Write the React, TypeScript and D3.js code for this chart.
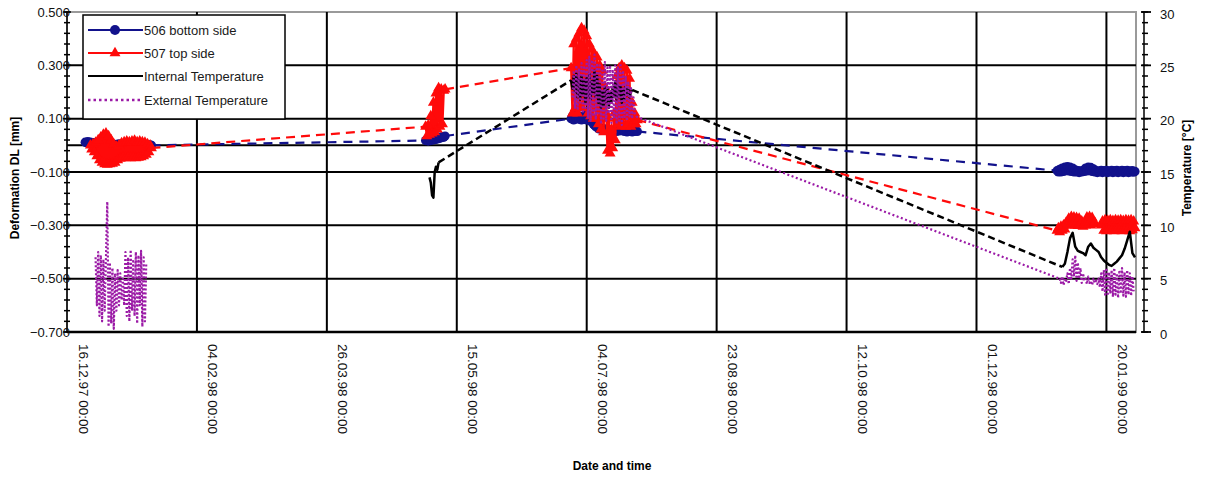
import React, { useEffect, useRef } from "react";
import * as d3 from "d3";

const W = 1205;
const H = 490;
const L = 67;
const R = 1135;
const T = 12;
const B = 332;
const FONT = "'Liberation Sans', Arial, sans-serif";

// axis ticks / labels
const dateLabels = [
  "16.12.97 00:00",
  "04.02.98 00:00",
  "26.03.98 00:00",
  "15.05.98 00:00",
  "04.07.98 00:00",
  "23.08.98 00:00",
  "12.10.98 00:00",
  "01.12.98 00:00",
  "20.01.99 00:00",
];
const deformTicks = [0.5, 0.3, 0.1, -0.1, -0.3, -0.5, -0.7];
const tempTicks = [0, 5, 10, 15, 20, 25, 30];
const legendNames = ["506 bottom side", "507 top side", "Internal Temperature", "External Temperature"];

// 506 bottom side, deformation [mm], readings every 12 h
const bottomA = [
  0.012, 0.01, 0.014, 0.008, 0.012, 0.006, 0.01, 0.004, 0.008, 0.002,
  0.006, 0.0, 0.004, -0.002, 0.006, 0.0, 0.004, -0.002, 0.004, 0.0,
  0.006, -0.002, 0.004, 0.0, 0.004, -0.002, 0.006, 0.0, 0.004, -0.002,
  0.004, 0.0, 0.006, 0.0, 0.004, -0.002, 0.004, 0.0, 0.004, -0.002,
  0.002, 0.0, 0.004, -0.002, 0.002, 0.0, 0.002, -0.002, 0.002, 0.0,
  0.002, 0.0,
];
const bottomB = [0.018, 0.022, 0.016, 0.025, 0.018, 0.028, 0.02, 0.03, 0.022, 0.032, 0.025, 0.03, 0.028, 0.033, 0.03, 0.035];
const bottomC = [
  0.1, 0.11, 0.095, 0.115, 0.1, 0.112, 0.098, 0.11, 0.095, 0.108,
  0.1, 0.112, 0.095, 0.105, 0.092, 0.1, 0.088, 0.08, 0.075, 0.07,
  0.068, 0.062, 0.066, 0.06, 0.064, 0.058, 0.062, 0.056, 0.06, 0.055,
  0.058, 0.052, 0.056, 0.05, 0.055, 0.052, 0.058, 0.054, 0.06, 0.055,
  0.058, 0.052, 0.056, 0.05, 0.054, 0.052, 0.056, 0.05, 0.054, 0.052,
  0.055, 0.052,
];
const bottomD = [
  -0.095, -0.1, -0.09, -0.1, -0.085, -0.098, -0.082, -0.095, -0.08, -0.096,
  -0.082, -0.098, -0.085, -0.1, -0.092, -0.1, -0.095, -0.102, -0.096, -0.1,
  -0.094, -0.098, -0.085, -0.096, -0.082, -0.095, -0.083, -0.098, -0.088, -0.1,
  -0.095, -0.102, -0.096, -0.1, -0.094, -0.102, -0.095, -0.1, -0.094, -0.102,
  -0.096, -0.1, -0.094, -0.102, -0.095, -0.1, -0.094, -0.102, -0.096, -0.1,
  -0.094, -0.102, -0.095, -0.1, -0.094, -0.102, -0.096, -0.1, -0.095, -0.101,
  -0.098,
];

// 507 top side, deformation [mm], readings every 12 h
const topA = [
  0.0, -0.015, 0.005, -0.025, 0.01, -0.04, 0.02, -0.055, 0.03, -0.065,
  0.04, -0.07, 0.045, -0.072, 0.035, -0.07, 0.02, -0.068, 0.005, -0.065,
  -0.005, -0.055, 0.0, -0.05, 0.008, -0.045, 0.012, -0.048, 0.015, -0.045,
  0.012, -0.048, 0.015, -0.045, 0.018, -0.048, 0.012, -0.046, 0.015, -0.044,
  0.012, -0.04, 0.01, -0.035, 0.005, -0.025, 0.0, -0.01,
];
const topB = [0.07, 0.035, 0.075, 0.04, 0.11, 0.045, 0.16, 0.05, 0.195, 0.06, 0.215, 0.07, 0.21, 0.08, 0.205, 0.21];
const topC = [
  0.29, 0.12, 0.38, 0.14, 0.4, 0.12,
  0.42, 0.15, 0.44, 0.14, 0.43, 0.16, 0.41,
  0.12, 0.38, 0.11, 0.36, 0.1, 0.34, 0.1, 0.33,
  0.08, 0.3, 0.06, 0.28, 0.05, 0.22,
  0.12, -0.02, 0.1, -0.03, 0.06, -0.01, 0.12, 0.02,
  0.26, 0.08, 0.29, 0.07, 0.3, 0.08, 0.29, 0.07, 0.28, 0.08, 0.25, 0.07,
  0.16, 0.08, 0.12, 0.08, 0.095,
];
const topD1 = [
  -0.32, -0.31, -0.325, -0.305, -0.32, -0.3, -0.315, -0.29, -0.3, -0.275,
  -0.3, -0.268, -0.298, -0.27, -0.3, -0.272, -0.302, -0.275, -0.3, -0.285,
  -0.305, -0.295, -0.3, -0.27, -0.298, -0.268, -0.3, -0.272, -0.295, -0.29,
];
const topD2 = [
  -0.3, -0.285, -0.32, -0.28, -0.322, -0.282, -0.318, -0.28, -0.32, -0.283,
  -0.322, -0.28, -0.318, -0.282, -0.32, -0.28, -0.322, -0.283, -0.318, -0.28,
  -0.32, -0.282, -0.322, -0.28, -0.318, -0.285, -0.31,
];

// internal temperature [°C]
const internalB = [14.5, 14.0, 12.8, 12.6, 15.0, 15.5, 15.2, 15.9];
const internalC = [
  23.6, 22.8, 24.0, 22.5, 24.2, 22.0, 23.8, 21.8, 24.0, 22.2,
  23.5, 21.5, 23.8, 22.0, 24.2, 21.8, 23.5, 22.5, 24.5, 22.0,
  24.0, 21.5, 23.2, 21.0, 22.5, 21.2, 23.0, 21.5, 22.8, 21.0,
  22.5, 21.5, 23.0, 22.0, 23.5, 21.8, 23.2, 22.0, 23.0, 21.5,
  22.8, 21.8, 23.0, 22.2, 22.8, 22.0, 22.5, 22.7,
];
const internalD = [
  6.1, 6.4, 7.5, 8.8, 9.3, 8.0, 7.6, 7.5, 7.4, 7.2,
  8.0, 8.3, 7.9, 7.7, 7.5, 7.0, 6.7, 6.5, 6.3, 6.2,
  6.4, 6.6, 6.9, 7.2, 7.8, 8.6, 9.4, 7.4, 7.0,
];

// external temperature [°C]
const externalA = [
  7.0, 2.5, 7.5, 1.5, 7.2, 1.0, 6.8, 2.0,
  7.0, 12.2, 0.5,
  6.5, 0.8, 6.0, 0.3, 5.5,
  2.0, 5.8, 2.5, 5.5, 3.0, 5.0, 2.5,
  7.5, 1.5, 7.0, 1.0, 7.7, 2.0, 6.8, 1.5, 7.5, 0.8, 7.2, 2.5, 7.6, 0.5, 7.0, 1.0, 6.5,
];
const externalC = [
  22.0, 24.5, 21.0, 25.0, 20.8, 24.6, 21.5, 25.2, 20.5, 24.8,
  21.0, 25.5, 20.0, 25.8, 19.8, 25.5, 20.2, 26.0, 19.9, 25.2,
  20.5, 25.0, 19.5, 24.5, 20.0, 25.3, 19.8, 24.8, 20.5, 25.0,
  19.6, 24.6, 20.0, 25.0, 19.5, 24.8, 19.8, 25.2, 19.4, 24.5,
  20.0, 24.0, 19.8, 23.5, 20.2, 23.0, 20.0, 22.0, 20.5, 20.2,
];
const externalD = [
  5.0, 4.6, 5.2, 4.4, 5.0, 4.8, 5.5, 4.5, 6.0, 5.0,
  6.8, 5.2, 7.2, 4.8, 6.5, 5.0, 6.0, 4.6, 5.5, 4.8,
  5.0, 4.5, 5.2, 4.6, 4.8, 4.4, 5.0, 4.6, 4.8, 4.5,
  5.0, 4.2, 5.5, 3.8, 5.8, 3.5, 6.0, 3.4, 5.6, 3.6,
  5.8, 3.3, 6.0, 3.5, 5.5, 3.2, 5.8, 3.6, 6.0, 3.4,
  5.6, 3.3, 5.8, 3.5, 5.5, 3.4, 5.2, 3.8,
];

type Seg = { start: string; stepH: number; values: number[]; link?: boolean };

const bottomSegs: Seg[] = [
  { start: "1997-12-23T00:00:00Z", stepH: 12, values: bottomA },
  { start: "1998-05-03T00:00:00Z", stepH: 12, values: bottomB, link: true },
  { start: "1998-06-28T00:00:00Z", stepH: 12, values: bottomC, link: true },
  { start: "1999-01-01T00:00:00Z", stepH: 12, values: bottomD, link: true },
];
const topSegs: Seg[] = [
  { start: "1997-12-25T00:00:00Z", stepH: 12, values: topA },
  { start: "1998-05-03T00:00:00Z", stepH: 12, values: topB, link: true },
  { start: "1998-06-28T00:00:00Z", stepH: 12, values: topC, link: true },
  { start: "1999-01-01T00:00:00Z", stepH: 12, values: topD1, link: true },
  { start: "1999-01-18T00:00:00Z", stepH: 12, values: topD2, link: true },
];
const internalSegs: Seg[] = [
  { start: "1998-05-04T12:00:00Z", stepH: 12, values: internalB },
  { start: "1998-06-28T00:00:00Z", stepH: 12, values: internalC, link: true },
  { start: "1999-01-03T00:00:00Z", stepH: 24, values: internalD, link: true },
];
const externalSegs: Seg[] = [
  { start: "1997-12-27T00:00:00Z", stepH: 12, values: externalA },
  { start: "1998-06-28T12:00:00Z", stepH: 12, values: externalC },
  { start: "1999-01-02T00:00:00Z", stepH: 12, values: externalD, link: true },
];

const BLUE = "#12128c";
const RED = "#ff0a0a";
const BLACK = "#000000";
const PURPLE = "#9b1aa6";

type Pt = { t: Date; v: number };
const toPoints = (s: Seg): Pt[] =>
  s.values.map((v, i) => ({ t: new Date(Date.parse(s.start) + i * s.stepH * 3600e3), v }));

const parseLabel = (s: string) => {
  const [d, m, y] = s.slice(0, 8).split(".").map(Number);
  return new Date(Date.UTC(y < 50 ? 2000 + y : 1900 + y, m - 1, d));
};

export default function App() {
  const svgRef = useRef<SVGSVGElement>(null);

  useEffect(() => {
    if (!svgRef.current) return;
    const svg = d3.select(svgRef.current);
    svg.selectAll("*").remove();

    const x = d3
      .scaleUtc()
      .domain([Date.UTC(1997, 11, 16), Date.UTC(1999, 0, 31)])
      .range([L, R]);
    const yL = d3.scaleLinear().domain([-0.7, 0.5]).range([B, T]);
    const yR = d3.scaleLinear().domain([0, 30]).range([B, T]);

    svg.append("rect").attr("width", W).attr("height", H).attr("fill", "#fff");

    // plot frame
    svg
      .append("rect")
      .attr("x", L)
      .attr("y", T)
      .attr("width", R + 1 - L)
      .attr("height", B - T)
      .attr("fill", "none")
      .attr("stroke", "#9a9a9a")
      .attr("stroke-width", 2);

    // gridlines
    const grid = svg.append("g").attr("stroke", "#000").attr("stroke-width", 2);
    deformTicks
      .filter((v) => v < 0.5 && v > -0.7)
      .concat([0])
      .forEach((v) => {
        grid.append("line").attr("x1", L).attr("x2", R + 1).attr("y1", yL(v)).attr("y2", yL(v));
      });
    const tickDates = dateLabels.map(parseLabel);
    tickDates.slice(1).forEach((d) => {
      grid.append("line").attr("x1", x(d)).attr("x2", x(d)).attr("y1", T).attr("y2", B);
    });

    // bottom axis line
    svg.append("line").attr("x1", L).attr("x2", R + 1).attr("y1", B).attr("y2", B).attr("stroke", "#000").attr("stroke-width", 2.5);

    // left axis
    const la = svg.append("g").attr("stroke", "#000");
    la.append("line").attr("x1", L).attr("x2", L).attr("y1", T).attr("y2", B).attr("stroke-width", 1.5);
    d3.range(-0.7, 0.5001, 0.04).forEach((v) => {
      la.append("line").attr("x1", L - 3).attr("x2", L + 3).attr("y1", yL(v)).attr("y2", yL(v)).attr("stroke-width", 1.5);
    });
    deformTicks.forEach((v) => {
      la.append("line").attr("x1", L - 4).attr("x2", L + 4).attr("y1", yL(v)).attr("y2", yL(v)).attr("stroke-width", 1.5);
      svg
        .append("text")
        .attr("x", L + 3)
        .attr("y", yL(v))
        .attr("text-anchor", "end")
        .attr("dominant-baseline", "central")
        .attr("font-family", FONT)
        .attr("font-size", 13)
        .attr("fill", "#111")
        .text(d3.format(".3f")(v));
    });

    // right axis
    const RX = 1144;
    const ra = svg.append("g").attr("stroke", "#000");
    ra.append("line").attr("x1", RX).attr("x2", RX).attr("y1", T).attr("y2", B + 1).attr("stroke-width", 1.5);
    d3.range(0, 30.01, 1).forEach((v) => {
      ra.append("line").attr("x1", RX - 2).attr("x2", RX + 4).attr("y1", yR(v)).attr("y2", yR(v)).attr("stroke-width", 1.5);
    });
    tempTicks.forEach((v) => {
      ra.append("line").attr("x1", RX - 3).attr("x2", RX + 7).attr("y1", yR(v)).attr("y2", yR(v)).attr("stroke-width", 1.8);
      svg
        .append("text")
        .attr("x", RX + 16)
        .attr("y", yR(v) + 2)
        .attr("dominant-baseline", "central")
        .attr("font-family", FONT)
        .attr("font-size", 13)
        .attr("fill", "#111")
        .text(v);
    });

    // x labels
    tickDates.forEach((d, i) => {
      const px = x(d) + 16;
      svg
        .append("text")
        .attr("transform", `translate(${px},344) rotate(90)`)
        .attr("dominant-baseline", "central")
        .attr("font-family", FONT)
        .attr("font-size", 13.5)
        .attr("fill", "#111")
        .text(dateLabels[i]);
    });

    // axis titles
    svg
      .append("text")
      .attr("transform", "translate(15,178) rotate(-90)")
      .attr("text-anchor", "middle")
      .attr("dominant-baseline", "central")
      .attr("font-family", FONT)
      .attr("font-weight", "bold")
      .attr("font-size", 12)
      .text("Deformation DL  [mm]");
    svg
      .append("text")
      .attr("transform", "translate(1187,168) rotate(-90)")
      .attr("text-anchor", "middle")
      .attr("dominant-baseline", "central")
      .attr("font-family", FONT)
      .attr("font-weight", "bold")
      .attr("font-size", 12)
      .text("Temperature [°C]");
    svg
      .append("text")
      .attr("x", 612)
      .attr("y", 470)
      .attr("text-anchor", "middle")
      .attr("font-family", FONT)
      .attr("font-weight", "bold")
      .attr("font-size", 12)
      .text("Date and time");

    const tri = d3.symbol().type(d3.symbolTriangle).size(52);

    const drawSeries = (
      segs: Seg[],
      y: d3.ScaleLinear<number, number>,
      color: string,
      lineDash: string | null,
      linkDash: string,
      marker: "circle" | "triangle" | null,
      width: number
    ) => {
      const g = svg.append("g");
      const line = d3
        .line<Pt>()
        .x((d) => x(d.t))
        .y((d) => y(d.v));
      const pts = segs.map(toPoints);
      pts.forEach((p, i) => {
        if (i > 0 && segs[i].link) {
          const prev = pts[i - 1];
          g.append("path")
            .attr("d", line([prev[prev.length - 1], p[0]]))
            .attr("fill", "none")
            .attr("stroke", color)
            .attr("stroke-width", width)
            .attr("stroke-dasharray", linkDash);
        }
        g.append("path")
          .attr("d", line(p))
          .attr("fill", "none")
          .attr("stroke", color)
          .attr("stroke-width", width)
          .attr("stroke-linejoin", "round")
          .attr("stroke-dasharray", lineDash);
        if (marker === "circle") {
          g.selectAll(null)
            .data(p)
            .join("circle")
            .attr("cx", (d) => x(d.t))
            .attr("cy", (d) => y(d.v))
            .attr("r", 4.6)
            .attr("fill", color);
        } else if (marker === "triangle") {
          g.selectAll(null)
            .data(p)
            .join("path")
            .attr("d", tri)
            .attr("transform", (d) => `translate(${x(d.t)},${y(d.v)})`)
            .attr("fill", color);
        }
      });
    };

    drawSeries(bottomSegs, yL, BLUE, null, "9,7", "circle", 2.2);
    drawSeries(topSegs, yL, RED, null, "9,6", "triangle", 2.2);
    drawSeries(internalSegs, yR, BLACK, null, "7,4", null, 2.5);
    drawSeries(externalSegs, yR, PURPLE, "2,2", "2,2.5", null, 2.2);

    // legend
    const lg = svg.append("g");
    lg.append("rect")
      .attr("x", 83)
      .attr("y", 15)
      .attr("width", 202)
      .attr("height", 104)
      .attr("fill", "#fff")
      .attr("stroke", "#000")
      .attr("stroke-width", 1.5);
    const rows = [30, 53, 76, 100];
    const colors = [BLUE, RED, BLACK, PURPLE];
    legendNames.forEach((name, i) => {
      const ly = rows[i];
      lg.append("line")
        .attr("x1", 88)
        .attr("x2", 143)
        .attr("y1", ly)
        .attr("y2", ly)
        .attr("stroke", colors[i])
        .attr("stroke-width", i === 3 ? 2.5 : 2)
        .attr("stroke-dasharray", i === 3 ? "2.5,3" : null);
      if (i === 0) lg.append("circle").attr("cx", 115).attr("cy", ly).attr("r", 5).attr("fill", BLUE);
      if (i === 1) lg.append("path").attr("d", tri).attr("transform", `translate(115,${ly})`).attr("fill", RED);
      lg.append("text")
        .attr("x", 144)
        .attr("y", ly)
        .attr("dominant-baseline", "central")
        .attr("font-family", FONT)
        .attr("font-size", 13)
        .attr("fill", "#1a1a1a")
        .text(name);
    });
  }, []);

  return (
    <svg
      ref={svgRef}
      width={W}
      height={H}
      style={{ position: "absolute", left: 0, top: 0, display: "block" }}
    />
  );
}
